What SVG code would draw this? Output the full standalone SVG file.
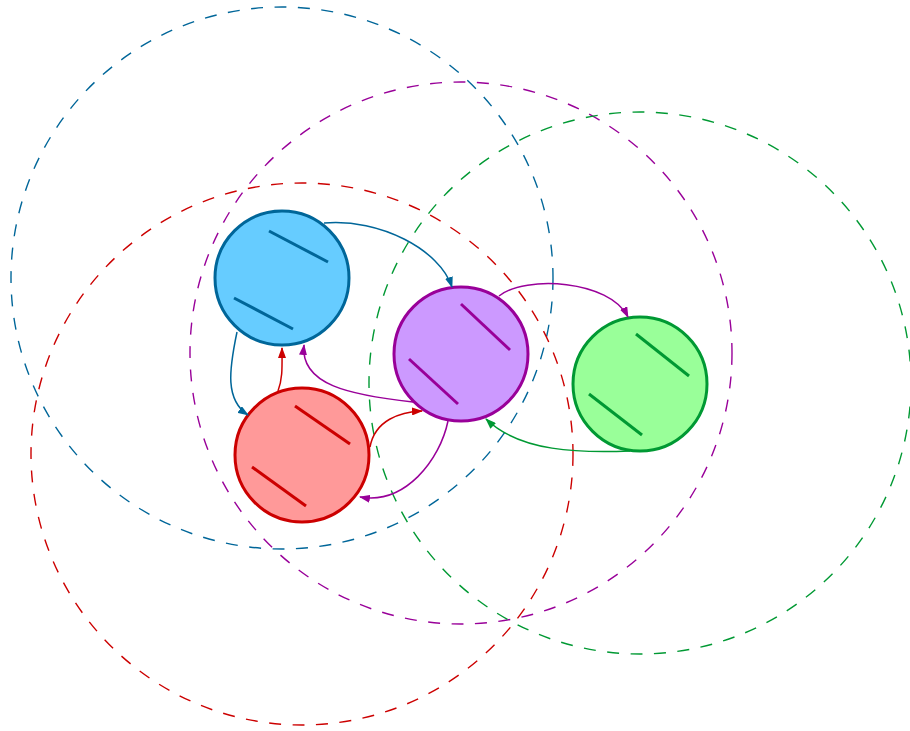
<svg xmlns="http://www.w3.org/2000/svg" width="910" height="731" viewBox="0 0 910 731">
<style>
.range{fill:none;stroke-width:1.4;stroke-dasharray:12 11.5}
.node{stroke-width:3}
.tick{stroke-width:3;stroke-linecap:butt}
.edge{fill:none;stroke-width:1.5}
.b{stroke:#006699}.p{stroke:#990099}.r{stroke:#CC0000}.g{stroke:#009933}
</style>
<defs>
<marker id="ab" markerUnits="userSpaceOnUse" markerWidth="11" markerHeight="8" refX="10" refY="4" orient="auto"><path d="M0,0 L11,4 L0,8 z" fill="#006699"/></marker>
<marker id="ap" markerUnits="userSpaceOnUse" markerWidth="11" markerHeight="8" refX="10" refY="4" orient="auto"><path d="M0,0 L11,4 L0,8 z" fill="#990099"/></marker>
<marker id="ar" markerUnits="userSpaceOnUse" markerWidth="11" markerHeight="8" refX="10" refY="4" orient="auto"><path d="M0,0 L11,4 L0,8 z" fill="#CC0000"/></marker>
<marker id="ag" markerUnits="userSpaceOnUse" markerWidth="11" markerHeight="8" refX="10" refY="4" orient="auto"><path d="M0,0 L11,4 L0,8 z" fill="#009933"/></marker>
</defs>
<g id="ranges">
<circle class="range b" cx="282" cy="278" r="271"/>
<circle class="range p" cx="461" cy="353" r="271"/>
<circle class="range r" cx="302" cy="454" r="271"/>
<circle class="range g" cx="640" cy="383" r="271"/>
</g>
<g id="node-blue">
<circle class="node b" cx="282" cy="278" r="67" fill="#66CCFF"/>
<line class="tick b" x1="269" y1="231" x2="328" y2="262"/>
<line class="tick b" x1="234" y1="298" x2="293" y2="329"/>
</g>
<g id="node-purple">
<circle class="node p" cx="461" cy="354" r="67" fill="#CC99FF"/>
<line class="tick p" x1="461" y1="304" x2="510" y2="350"/>
<line class="tick p" x1="409" y1="359" x2="458" y2="404"/>
</g>
<g id="node-red">
<circle class="node r" cx="302" cy="455" r="67" fill="#FF9999"/>
<line class="tick r" x1="295" y1="406" x2="350" y2="444"/>
<line class="tick r" x1="252" y1="467" x2="306" y2="506"/>
</g>
<g id="node-green">
<circle class="node g" cx="640" cy="384" r="67" fill="#99FF99"/>
<line class="tick g" x1="636" y1="334" x2="689" y2="376"/>
<line class="tick g" x1="589" y1="394" x2="642" y2="435"/>
</g>
<g id="connectors">
<path class="edge b" d="M324,223 C380,218 440,250 452,287" marker-end="url(#ab)"/>
<path class="edge b" d="M237,332 C229,370 225,400 248,415" marker-end="url(#ab)"/>
<path class="edge r" d="M278,391 C283,378 282,365 282,348" marker-end="url(#ar)"/>
<path class="edge p" d="M413,402 C350,395 300,385 304,345" marker-end="url(#ap)"/>
<path class="edge r" d="M370,447 C375,420 400,412 422,411" marker-end="url(#ar)"/>
<path class="edge p" d="M448,421 C440,460 405,505 360,497" marker-end="url(#ap)"/>
<path class="edge p" d="M499,296 C525,275 610,280 628,317" marker-end="url(#ap)"/>
<path class="edge g" d="M630,451 C580,453 520,452 486,419" marker-end="url(#ag)"/>
</g>
</svg>
